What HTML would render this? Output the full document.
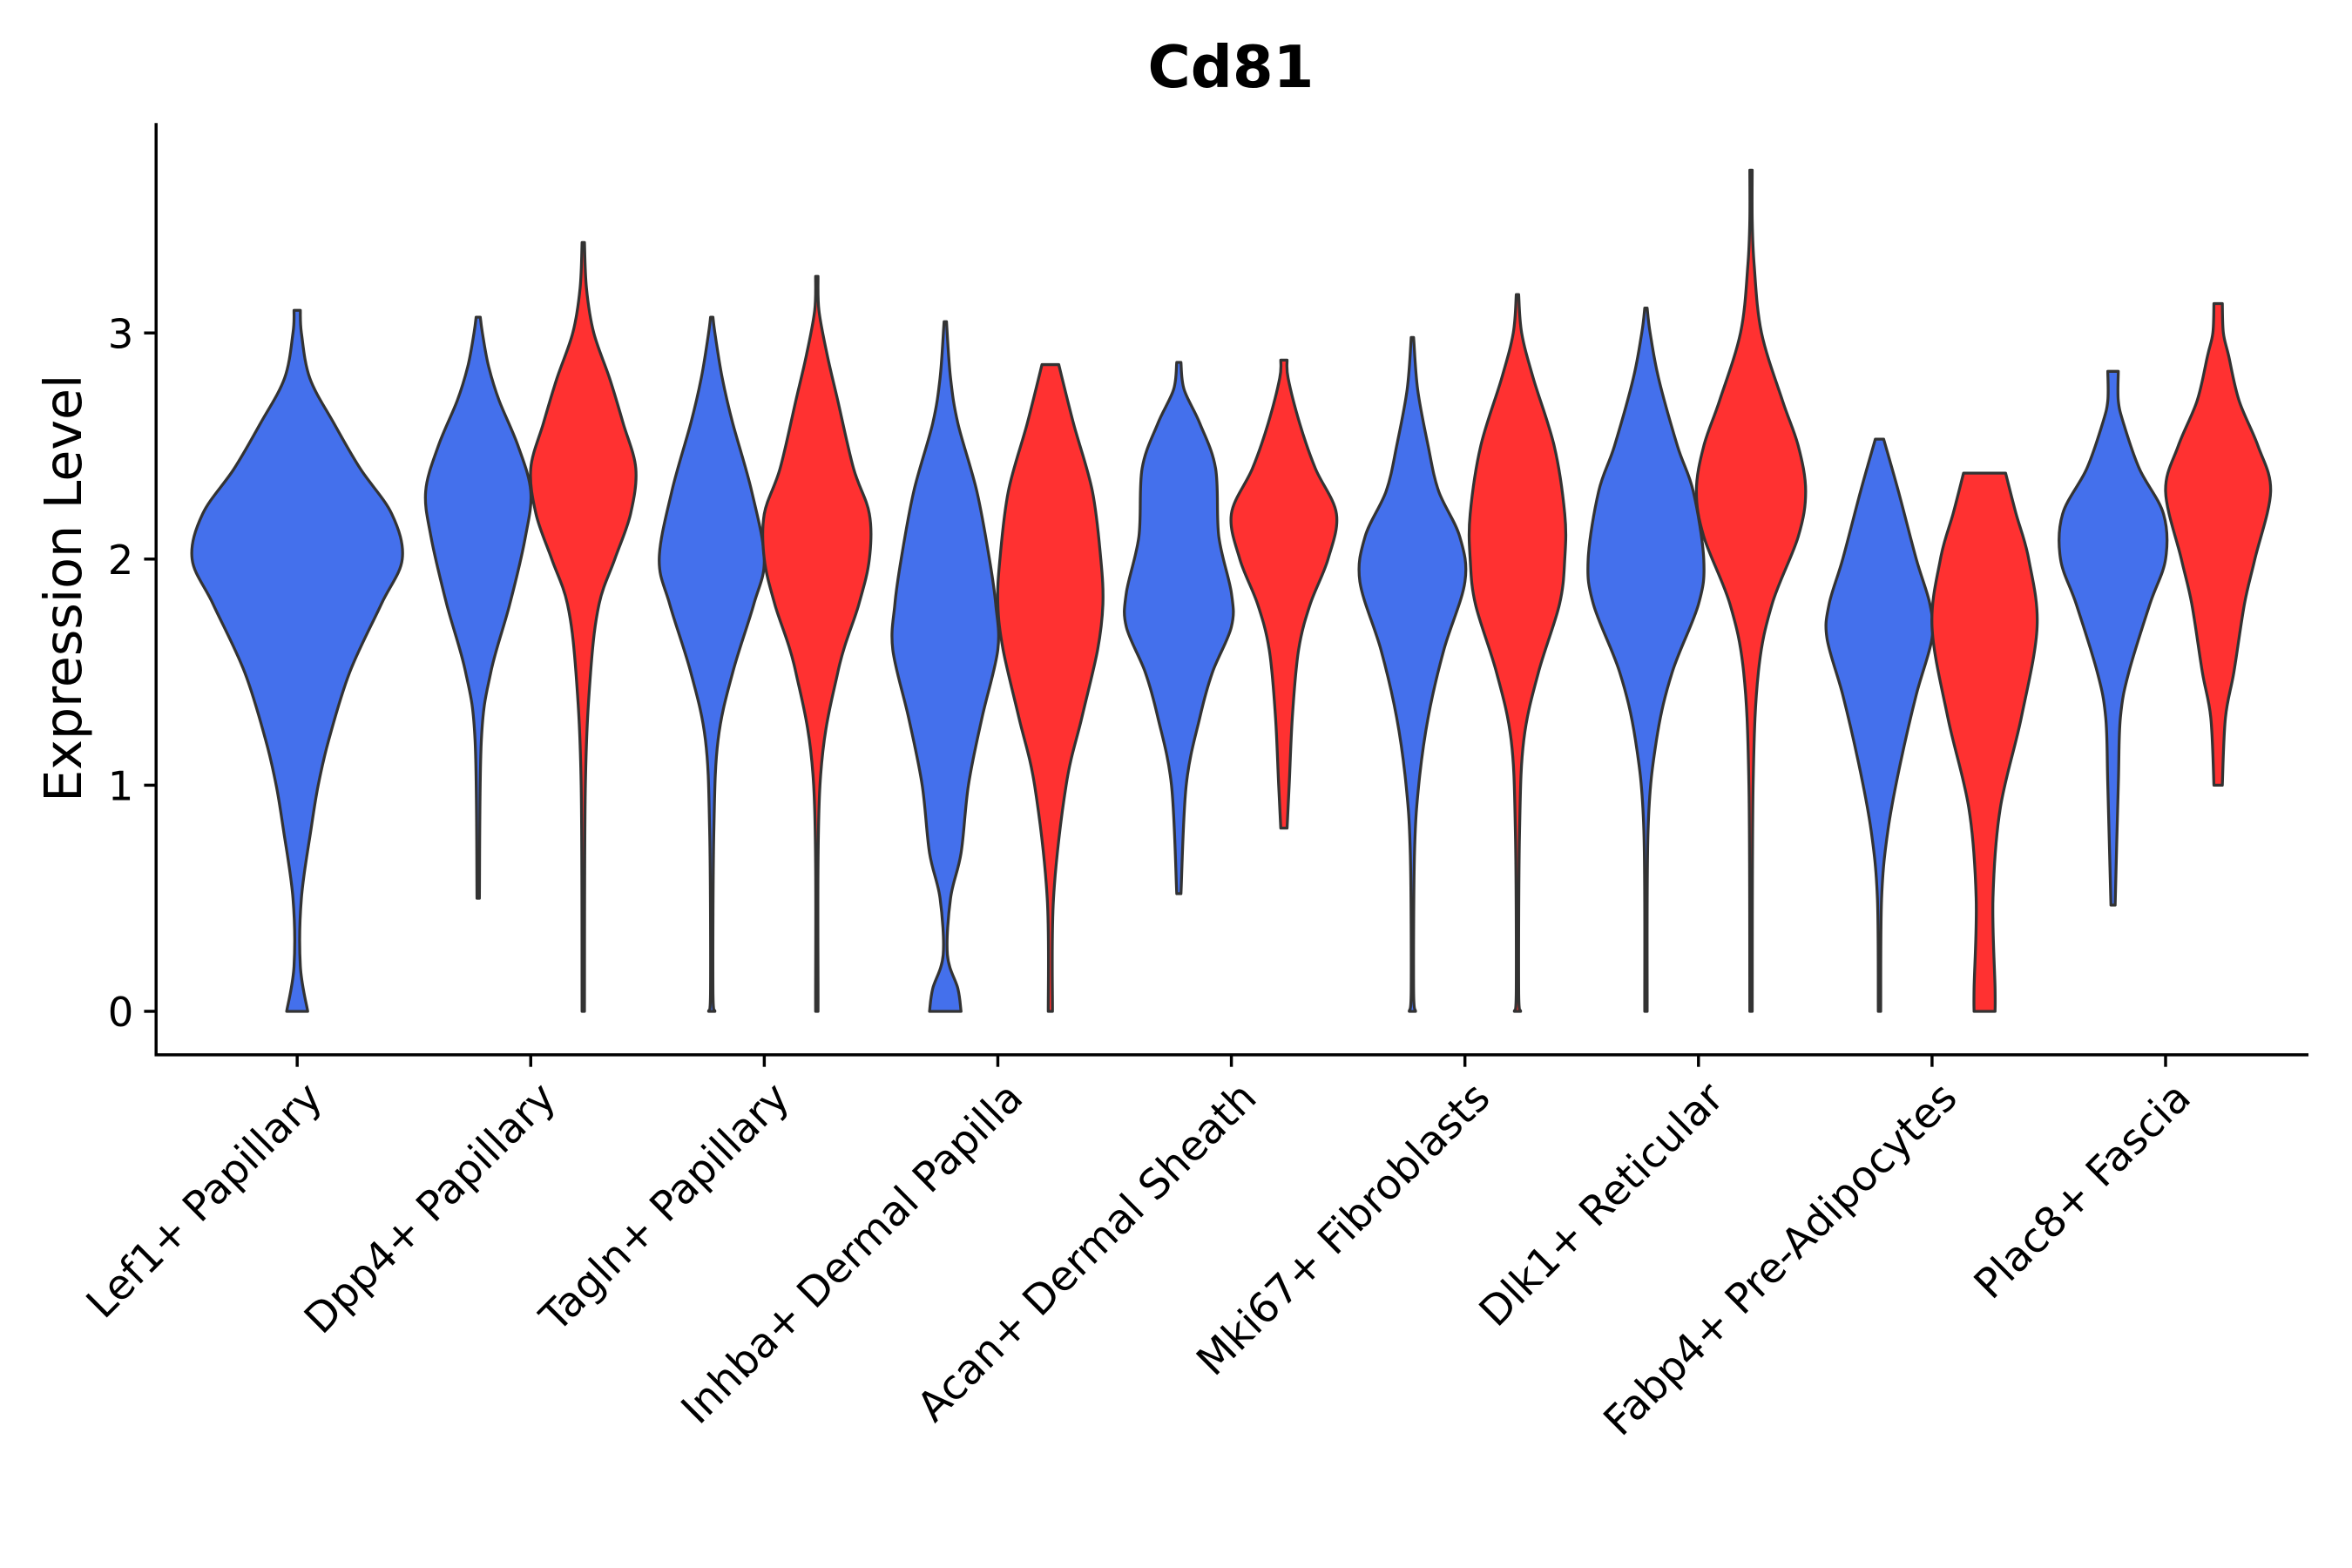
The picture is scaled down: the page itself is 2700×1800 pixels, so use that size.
<!DOCTYPE html>
<html><head><meta charset="utf-8"><style>html,body{margin:0;padding:0;background:#fff}svg{display:block}</style></head>
<body>
<svg id="chart" width="2700" height="1800" viewBox="0 0 1567 1045" preserveAspectRatio="none" xmlns="http://www.w3.org/2000/svg" font-family="'DejaVu Sans', 'Liberation Sans', sans-serif">
<text x="820" y="58" text-anchor="middle" font-size="39" font-weight="bold">Cd81</text>
<text transform="translate(54,392) rotate(-90)" text-anchor="middle" font-size="34">Expression Level</text>
<g id="violins"></g>
<line x1="104" y1="82" x2="104" y2="703" stroke="#000" stroke-width="2"/>
<line x1="103" y1="703" x2="1538" y2="703" stroke="#000" stroke-width="2"/>
<g id="axes"></g>
</svg>
<script>
const categories = ["Lef1+ Papillary","Dpp4+ Papillary","Tagln+ Papillary","Inhba+ Dermal Papilla","Acan+ Dermal Sheath","Mki67+ Fibroblasts","Dlk1+ Reticular","Fabp4+ Pre-Adipocytes","Plac8+ Fascia"];
const yTicks = [0,1,2,3];
// each violin: [value, density] profiles
const blueViolins = [
 [[0,.1],[0.2,.03],[0.5,.04],[0.8,.13],[1.0,.2],[1.2,.3],[1.5,.5],[1.8,.8],[2.0,1.0],[2.2,.9],[2.4,.6],[2.6,.35],[2.8,.12],[3.0,.04],[3.1,.03]],
 [[0.5,.01],[1.2,.03],[1.5,.12],[1.8,.3],[2.1,.45],[2.3,.5],[2.5,.38],[2.7,.2],[2.85,.1],[3.0,.04],[3.07,.02]],
 [[0,.03],[0.1,.01],[0.8,.02],[1.2,.06],[1.5,.2],[1.8,.4],[2.0,.5],[2.3,.38],[2.6,.2],[2.8,.1],[3.0,.03],[3.07,.01]],
 [[0,.15],[0.1,.12],[0.25,.02],[0.5,.05],[0.7,.15],[1.0,.22],[1.3,.35],[1.6,.5],[1.8,.48],[2.0,.42],[2.3,.3],[2.6,.12],[2.8,.05],[3.05,.01]],
 [[0.52,.02],[1.0,.07],[1.3,.2],[1.5,.32],[1.7,.5],[1.85,.5],[2.1,.38],[2.4,.35],[2.6,.2],[2.75,.05],[2.87,.02]],
 [[0,.03],[0.1,.01],[0.7,.02],[1.0,.06],[1.3,.15],[1.6,.3],[1.9,.5],[2.1,.45],[2.3,.25],[2.5,.15],[2.75,.05],[2.98,.01]],
 [[0,.01],[0.8,.02],[1.2,.1],[1.5,.25],[1.8,.5],[2.0,.55],[2.3,.45],[2.5,.3],[2.8,.12],[3.0,.04],[3.11,.01]],
 [[0,.01],[0.5,.02],[0.8,.08],[1.1,.2],[1.4,.35],[1.65,.5],[1.8,.48],[2.0,.35],[2.3,.18],[2.53,.04]],
 [[0.47,.02],[1.0,.05],[1.3,.07],[1.5,.15],[1.8,.35],[2.0,.5],[2.2,.48],[2.4,.25],[2.6,.1],[2.7,.05],[2.83,.05]]
];
const redViolins = [
 null,
 [[0,.01],[1.0,.02],[1.5,.07],[1.8,.15],[2.0,.3],[2.2,.45],[2.4,.5],[2.6,.38],[2.8,.25],[3.0,.1],[3.2,.03],[3.4,.01]],
 [[0,.01],[1.0,.03],[1.5,.2],[1.8,.4],[2.0,.5],[2.2,.5],[2.4,.35],[2.7,.2],[2.9,.1],[3.1,.02],[3.25,.01]],
 [[0,.02],[0.5,.03],[1.0,.15],[1.3,.3],[1.6,.45],[1.8,.5],[2.0,.48],[2.3,.4],[2.6,.22],[2.86,.08]],
 [[0.81,.03],[1.0,.05],[1.3,.08],[1.6,.14],[1.8,.25],[2.0,.42],[2.2,.5],[2.4,.3],[2.6,.15],[2.8,.04],[2.88,.03]],
 [[0,.03],[0.1,.01],[0.8,.02],[1.2,.06],[1.5,.2],[1.8,.4],[2.0,.45],[2.2,.45],[2.5,.35],[2.8,.15],[3.0,.04],[3.17,.01]],
 [[0,.01],[1.0,.02],[1.5,.07],[1.8,.2],[2.1,.45],[2.3,.52],[2.5,.45],[2.7,.3],[3.0,.1],[3.3,.03],[3.5,.01],[3.72,.01]],
 [[0,.1],[0.1,.1],[0.5,.08],[0.9,.15],[1.3,.35],[1.7,.5],[2.0,.42],[2.2,.3],[2.38,.2]],
 [[1.0,.04],[1.3,.07],[1.5,.15],[1.8,.25],[2.0,.35],[2.3,.5],[2.5,.38],[2.7,.2],[2.9,.1],[3.0,.05],[3.13,.04]]
];
const NS="http://www.w3.org/2000/svg";
const yScale = v => 674 - v*150.7;
const xScale = i => 198 + i*155.6;
const wScale = d => d*70;
const vg=document.getElementById('violins'), ag=document.getElementById('axes');
function smooth(pts){
  let d='M'+pts[0][0].toFixed(1)+','+pts[0][1].toFixed(1);
  for(let i=0;i<pts.length-1;i++){
    const p0=pts[Math.max(i-1,0)],p1=pts[i],p2=pts[i+1],p3=pts[Math.min(i+2,pts.length-1)];
    const c1=[p1[0]+(p2[0]-p0[0])/6,p1[1]+(p2[1]-p0[1])/6];
    const c2=[p2[0]-(p3[0]-p1[0])/6,p2[1]-(p3[1]-p1[1])/6];
    d+=' C'+c1[0].toFixed(1)+','+c1[1].toFixed(1)+' '+c2[0].toFixed(1)+','+c2[1].toFixed(1)+' '+p2[0].toFixed(1)+','+p2[1].toFixed(1);
  }
  return d;
}
function drawViolin(prof, cx, color, name){
  const right = prof.map(p=>[cx+Math.max(wScale(p[1]),0.8), yScale(p[0])]);
  const left = prof.slice().reverse().map(p=>[cx-Math.max(wScale(p[1]),0.8), yScale(p[0])]);
  const d = smooth(left) + ' L' + right[0][0].toFixed(1)+','+right[0][1].toFixed(1) + smooth(right).replace(/^M[^C]*/,' ') + ' Z';
  const p=document.createElementNS(NS,'path');
  p.setAttribute('d', d);
  p.setAttribute('fill', color); p.setAttribute('stroke','#333'); p.setAttribute('stroke-width','1.9'); p.setAttribute('stroke-linejoin','round');
  
  
  vg.appendChild(p);
}
categories.forEach((c,i)=>{
  const tx=xScale(i);
  const hasRed = redViolins[i]!==null;
  const bx = hasRed ? tx-35 : tx;
  drawViolin(blueViolins[i], bx, '#4470EC', 'violin-blue-'+(i+1));
  if(hasRed) drawViolin(redViolins[i], tx+35, '#FF3131', 'violin-red-'+(i+1));
  const t=document.createElementNS(NS,'line');
  t.setAttribute('x1',tx);t.setAttribute('x2',tx);t.setAttribute('y1',703);t.setAttribute('y2',711);
  t.setAttribute('stroke','#000');t.setAttribute('stroke-width','2');
  
  
  ag.appendChild(t);
  const l=document.createElementNS(NS,'text');
  l.setAttribute('transform','translate('+(tx+4)+',719) rotate(-45)');
  l.setAttribute('text-anchor','end'); l.setAttribute('font-size','27.5'); l.setAttribute('dominant-baseline','hanging');
  l.textContent=c;
  
  
  ag.appendChild(l);
});
yTicks.forEach(v=>{
  const y=yScale(v);
  const t=document.createElementNS(NS,'line');
  t.setAttribute('x1',96);t.setAttribute('x2',104);t.setAttribute('y1',y);t.setAttribute('y2',y);
  t.setAttribute('stroke','#000');t.setAttribute('stroke-width','2');
  
  
  ag.appendChild(t);
  const l=document.createElementNS(NS,'text');
  l.setAttribute('x',89);l.setAttribute('y',y+10);l.setAttribute('text-anchor','end');l.setAttribute('font-size','27');
  l.textContent=v;
  
  
  ag.appendChild(l);
});
</script>
</body></html>
